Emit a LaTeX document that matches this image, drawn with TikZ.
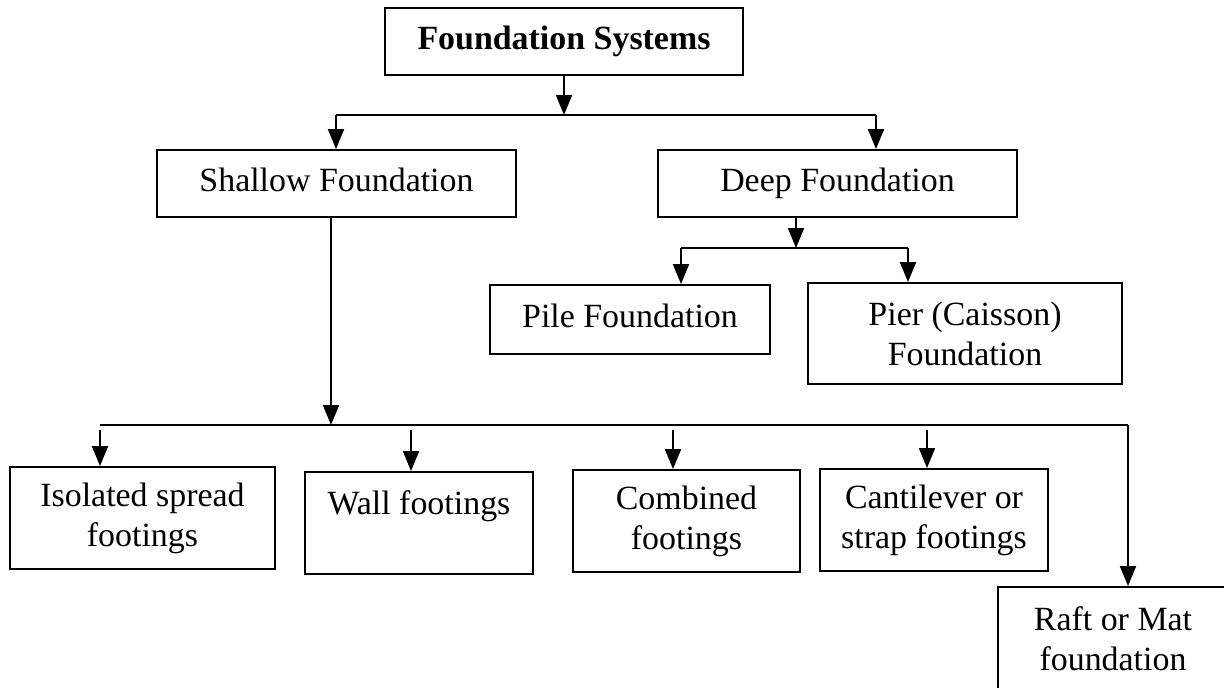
\documentclass[tikz,border=0pt]{standalone}
\usepackage{fontspec}
\setmainfont{Liberation Serif}
\usepackage{tikz}
\usetikzlibrary{positioning,calc,arrows.meta}

\begin{document}
\begin{tikzpicture}[x=0.02cm,y=-0.02cm,
    box/.style={draw, line width=1.1pt, inner sep=0pt, align=center,
        font=\fontsize{19.3}{22.8}\selectfont},
    oneline/.style={text height=0.56cm, text depth=0.24cm},
    arr/.style={line width=1.1pt, -{Triangle[length=0.4cm,width=0.32cm]}}]
    \clip (0,0) rectangle (1224,687);

    % Top level
    \node[box, oneline, minimum width=7.16cm, minimum height=1.34cm] (sys) at (564,41.5) {\bfseries Foundation Systems};
    \node[box, oneline, minimum width=7.18cm, minimum height=1.34cm] (shal) at (336.5,183.5) {Shallow Foundation};
    \node[box, oneline, minimum width=7.18cm, minimum height=1.34cm] (deep) at (837.5,183.5) {Deep Foundation};

    % Deep types
    \node[box, oneline, minimum width=5.6cm, minimum height=1.38cm] (pile) at (630,319.5) {Pile Foundation};
    \node[box, minimum width=6.28cm, minimum height=2.02cm] (pier) at (965,333.5) {Pier (Caisson)\\Foundation};

    % Shallow types
    \node[box, minimum width=5.3cm, minimum height=2.04cm] (iso) at (142.5,518) {Isolated spread\\footings};
    \node[box, minimum width=4.56cm, text height=0.84cm, text depth=1.2cm, anchor=base] (wall) at (419,514) {Wall footings};
    \node[box, minimum width=4.54cm, minimum height=2.04cm] (comb) at (686.5,521) {Combined\\footings};
    \node[box, minimum width=4.56cm, minimum height=2.04cm] (cant) at (934,520) {Cantilever or\\strap footings};
    \node[box, minimum width=4.6cm, minimum height=2.08cm] (raft) at (1113,639) {Raft or Mat\\foundation};

    % Split under the title
    \coordinate (j1) at (564,115);
    \coordinate (j1l) at (336,115);
    \coordinate (j1r) at (876,115);
    \draw[arr] (sys.south) -- (j1);
    \draw[line width=1.1pt] (j1l) -- (j1r);
    \draw[arr] (j1l) -- (j1l |- shal.north);
    \draw[arr] (j1r) -- (j1r |- deep.north);

    % Split under deep
    \coordinate (j2) at (796,248);
    \coordinate (j2l) at (681,248);
    \coordinate (j2r) at (908,248);
    \draw[arr] (j2 |- deep.south) -- (j2);
    \draw[line width=1.1pt] (j2l) -- (j2r);
    \draw[arr] (j2l) -- (j2l |- pile.north);
    \draw[arr] (j2r) -- (j2r |- pier.north);

    % Split under shallow
    \coordinate (j3) at (331,425);
    \coordinate (j3l) at (100,425);
    \coordinate (j3r) at (1128,425);
    \draw[arr] (j3 |- shal.south) -- (j3);
    \draw[line width=1.1pt] (j3l) -- (j3r);
    \foreach \x/\n in {100/iso, 411/wall, 673/comb, 927/cant} {
        \coordinate (s\n) at (\x,430);
        \draw[arr] (s\n) -- (s\n |- \n.north);
    }
    \draw[arr] (j3r) -- (j3r |- raft.north);
\end{tikzpicture}
\end{document}
